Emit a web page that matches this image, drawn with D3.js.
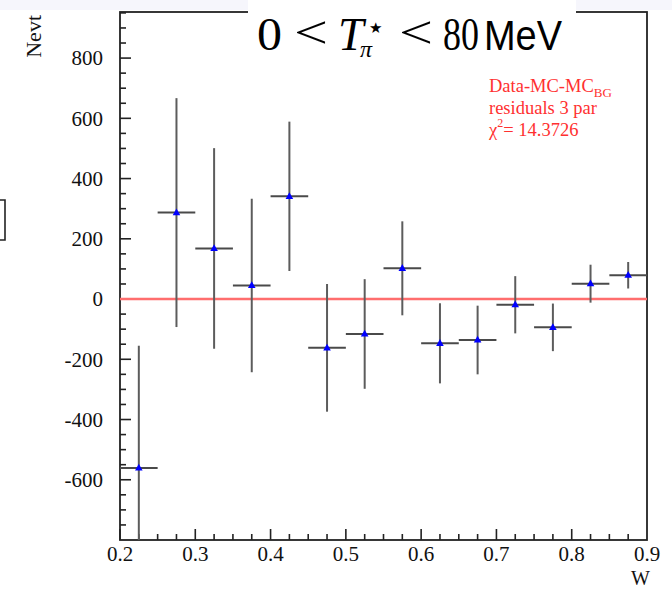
<!DOCTYPE html>
<html><head><meta charset="utf-8">
<script src="https://cdn.jsdelivr.net/npm/d3@7"></script>
<style>html,body{margin:0;padding:0;background:#fff;}svg{display:block;}</style>
</head><body>
<script>
const binCenters = [0.225,0.275,0.325,0.375,0.425,0.475,0.525,0.575,0.625,0.675,0.725,0.775,0.825,0.875];
const values = [-561,287,168,45,341,-162,-116,102,-147,-136,-19,-94,51,79];
const errors = [406,380,333,288,248,212,182,156,133,114,95,79,63,44];
const binHalfWidth = 0.025;
const xTickLabels = [0.2,0.3,0.4,0.5,0.6,0.7,0.8,0.9];
const yTickLabels = [-600,-400,-200,0,200,400,600,800];

const W = 672, H = 590;
const L = 120, R = 647, T = 12, B = 540;
const svg = d3.select("body").append("svg").attr("width", W).attr("height", H);

// top band
svg.append("rect").attr("x",0).attr("y",0).attr("width",W).attr("height",10).attr("fill","#f6f6fc");

const x = d3.scaleLinear().domain([0.2,0.9]).range([L,R]);
const y = d3.scaleLinear().domain([-800,953]).range([B,T]);

svg.append("defs").append("clipPath").attr("id","clip")
  .append("rect").attr("x",L).attr("y",T).attr("width",R-L).attr("height",B-T);

// frame
svg.append("rect").attr("x",L).attr("y",T).attr("width",R-L).attr("height",B-T)
  .attr("fill","#fff").attr("stroke","#222").attr("stroke-width",1.8);

// y ticks (inside)
const yMinor = d3.range(-750, 951, 50);
svg.append("g").selectAll("line").data(yMinor).join("line")
  .attr("x1",L).attr("x2",d => L + (d % 200 === 0 ? 11 : 6))
  .attr("y1",d=>y(d)).attr("y2",d=>y(d)).attr("stroke","#222").attr("stroke-width",1.6);
// x ticks (inside)
const xMinor = d3.range(8,36).map(i => i*0.025);
svg.append("g").selectAll("line").data(xMinor).join("line")
  .attr("x1",d=>x(d)).attr("x2",d=>x(d))
  .attr("y1",B).attr("y2",(d,i) => B - ((i % 4 === 0) ? 11 : 6))
  .attr("stroke","#222").attr("stroke-width",1.6);

// tick labels
svg.append("g").selectAll("text").data(yTickLabels).join("text")
  .attr("x",103).attr("y",d=>y(d)).attr("dy","0.35em").attr("text-anchor","end")
  .attr("font-family","Liberation Serif").attr("font-size",21).attr("fill","#111")
  .text(d=>d);
svg.append("g").selectAll("text").data(xTickLabels).join("text")
  .attr("x",d=>x(d)).attr("y",561).attr("text-anchor","middle")
  .attr("font-family","Liberation Serif").attr("font-size",21).attr("fill","#111")
  .text(d=>d.toFixed(1));

// axis titles
svg.append("text").attr("x",650).attr("y",585).attr("text-anchor","end")
  .attr("font-family","Liberation Serif").attr("font-size",20).attr("fill","#111").text("W");
svg.append("text").attr("transform","translate(41,15) rotate(-90)").attr("text-anchor","end")
  .attr("font-family","Liberation Serif").attr("font-size",22).attr("fill","#111").text("Nevt");

// zero line
svg.append("line").attr("x1",L).attr("x2",R).attr("y1",y(0)).attr("y2",y(0))
  .attr("stroke","#ff6e6e").attr("stroke-width",2.6);

// error bars
const g = svg.append("g").attr("clip-path","url(#clip)");
const data = binCenters.map((c,i)=>({c, v:values[i], e:errors[i]}));
g.selectAll("line.v").data(data).join("line").attr("class","v")
  .attr("x1",d=>x(d.c)).attr("x2",d=>x(d.c)).attr("y1",d=>y(d.v+d.e)).attr("y2",d=>y(d.v-d.e))
  .attr("stroke","#5c5c5c").attr("stroke-width",2);
g.selectAll("line.h").data(data).join("line").attr("class","h")
  .attr("x1",d=>x(d.c-binHalfWidth)).attr("x2",d=>x(d.c+binHalfWidth)).attr("y1",d=>y(d.v)).attr("y2",d=>y(d.v))
  .attr("stroke","#4a4a4a").attr("stroke-width",2);
// markers
g.selectAll("path.m").data(data).join("path").attr("class","m")
  .attr("transform",d=>`translate(${x(d.c)},${y(d.v)})`)
  .attr("d","M0,-4.2 L3.8,2.6 L-3.8,2.6 Z").attr("fill","#0000ff");

// legend text
const leg = svg.append("g").attr("font-family","Liberation Serif").attr("fill","#ff3030");
const t1 = leg.append("text").attr("x",489).attr("y",92).attr("font-size",18.5);
t1.append("tspan").text("Data-MC-MC");
t1.append("tspan").attr("font-size",13).attr("dy",5).text("BG");
leg.append("text").attr("x",489).attr("y",114).attr("font-size",18.5).text("residuals 3 par");
const t3 = leg.append("text").attr("x",489).attr("y",136).attr("font-size",18.5);
t3.append("tspan").text("χ");
t3.append("tspan").attr("font-size",12).attr("dy",-9).text("2");
t3.append("tspan").attr("dy",9).text("= 14.3726");

// title box
svg.append("rect").attr("x",248).attr("y",0).attr("width",328).attr("height",40).attr("fill","#fff");
const tt = svg.append("g").attr("fill","#000");
function piece(txt, xs, yb, size, fam, style, w){
  const t = tt.append("text").attr("x",xs).attr("y",yb).attr("font-size",size).attr("font-family",fam)
    .attr("font-style",style||"normal").text(txt);
  if (w) t.attr("textLength",w).attr("lengthAdjust","spacingAndGlyphs");
}
piece("0",257,50,46,"Liberation Serif",null,25);
piece("<",294,48,46,"Liberation Serif",null,34);
piece("T",338,50,46,"Liberation Serif","italic");
piece("★",369,33,15,"DejaVu Sans");
piece("π",360,57,24,"Liberation Serif","italic");
piece("<",399,48,46,"Liberation Serif",null,34);
piece("80",443,50,46,"Liberation Serif",null,36);
piece("MeV",484,50,42,"Liberation Sans",null,78);

// left bracket fragment
svg.append("path").attr("d","M0,200 H5 V240 H0").attr("fill","none").attr("stroke","#222").attr("stroke-width",1.6);
</script>
</body></html>
